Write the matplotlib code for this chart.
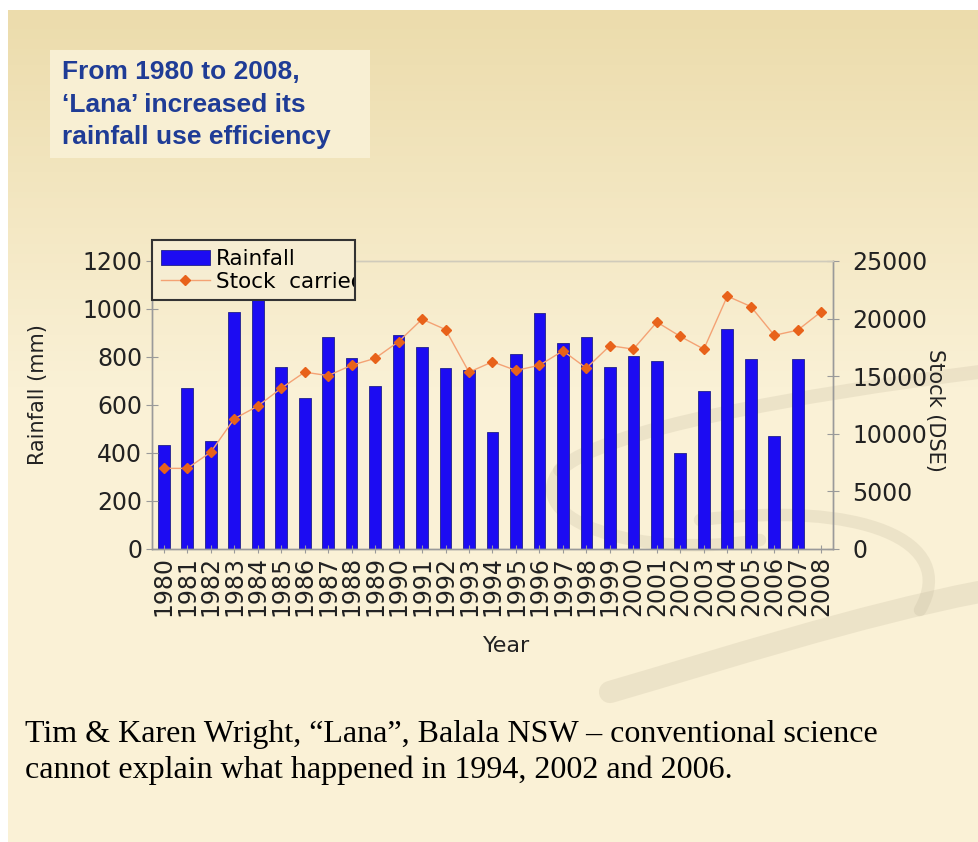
"""Lana: rainfall vs stock carried, 1980-2008 (slide recreation)."""

import numpy as np
import matplotlib
matplotlib.use("Agg")
import matplotlib.pyplot as plt
from matplotlib.patches import Rectangle, PathPatch
from matplotlib.path import Path
from matplotlib.transforms import Bbox, TransformedBbox

# 数据
years = [str(y) for y in range(1980, 2009)]
rainfall_mm = [433, 670, 450, 989, 1060, 760, 628, 885, 797, 679,
               893, 843, 754, 746, 486, 812, 982, 857, 885, 760,
               804, 782, 399, 657, 915, 790, 472, 790, np.nan]
stock_dse = [7000, 7000, 8400, 11300, 12400, 13950, 15350, 15050, 15950, 16550,
             18000, 19950, 19050, 15350, 16250, 15500, 15950, 17200, 15700, 17650,
             17350, 19700, 18450, 17350, 21950, 21050, 18550, 19000, 20600]

W, H = 979, 842
BLUE = "#1c0cf2"
ORANGE = "#e8621a"
AXIS_GREY = "#9a9a9a"
TEXT_C = "#222222"
TICK_FONT = ["DejaVu Sans"]


def fx(px):
    return px / W


def fy(py):
    return 1 - py / H


fig = plt.figure(figsize=(W / 100, H / 100), dpi=100)
fig.patch.set_facecolor("white")

# 幻灯片背景：渐变 + 装饰弧线
bg = fig.add_axes([fx(8), 0, 1 - fx(8), fy(10)], zorder=-10)
grad = np.linspace(0, 1, 256).reshape(-1, 1)
top_c = np.array([236, 220, 172]) / 255
bot_c = np.array([250, 241, 214]) / 255
img = top_c + (bot_c - top_c) * np.clip(grad * 2.2, 0, 1)[..., None]
bg.imshow(img.reshape(256, 1, 3), aspect="auto", extent=[0, 1, 0, 1])
bg.set_axis_off()

curves = [
    ([(979, 592), (860, 615), (720, 660), (610, 692)], 16),
    ([(979, 372), (800, 395), (600, 430), (560, 470)], 10),
    ([(560, 470), (520, 520), (640, 560), (760, 540)], 9),
    ([(700, 520), (860, 500), (960, 540), (920, 610)], 9),
]
for pts, lw in curves:
    verts = [(fx(px), fy(py)) for px, py in pts]
    path = Path(verts, [Path.MOVETO, Path.CURVE4, Path.CURVE4, Path.CURVE4])
    fig.patches.append(PathPatch(path, transform=fig.transFigure, fill=False,
                                 edgecolor="#b8ad92", lw=lw, alpha=0.2,
                                 capstyle="round", zorder=-5))

# 标题框
fig.patches.append(Rectangle((fx(50), fy(158)), fx(320), 108 / H,
                             transform=fig.transFigure, facecolor="#f8efd3",
                             edgecolor="none", zorder=-4))
fig.text(fx(62), fy(60), "From 1980 to 2008,\n\u2018Lana\u2019 increased its\nrainfall use efficiency",
         ha="left", va="top", fontsize=19, fontweight="bold", color="#1f3c96",
         linespacing=1.45, family=["Liberation Sans Narrow", "Liberation Sans", "DejaVu Sans"])

# 主图
ax = fig.add_axes([fx(152), fy(549), fx(833 - 152), 288 / H])
ax.set_facecolor("none")
x = np.arange(len(years))
ax.bar(x, rainfall_mm, width=0.5, color=BLUE, edgecolor="#20208a",
       linewidth=0.6, label="Rainfall")
ax.set_xlim(-0.5, len(years) - 0.5)
ax.set_ylim(0, 1200)
ax.set_yticks(range(0, 1201, 200))
ax.set_xticks(x)
ax.set_xticklabels(years, rotation=90, family=TICK_FONT, fontsize=17)
ax.tick_params(axis="y", labelsize=17, direction="inout", length=8,
               color=AXIS_GREY, pad=3, labelcolor=TEXT_C)
ax.tick_params(axis="x", direction="inout", length=6, color=AXIS_GREY,
               pad=2, labelcolor=TEXT_C)

ax2 = ax.twinx()
ax2.plot(x, stock_dse, color="#f4a274", lw=1.0, marker="D", markersize=5,
         markerfacecolor=ORANGE, markeredgecolor=ORANGE, label="Stock  carried (DSE)")
ax2.set_ylim(0, 25000)
ax2.set_yticks(range(0, 25001, 5000))
ax2.tick_params(axis="y", labelsize=17, direction="inout", length=8,
                color=AXIS_GREY, pad=10, labelcolor=TEXT_C)

for a in (ax, ax2):
    for side in ("left", "bottom", "right"):
        a.spines[side].set_color(AXIS_GREY)
        a.spines[side].set_linewidth(1.0)
    a.spines["top"].set_color("#d0cbbb")
    a.spines["top"].set_linewidth(1.0)

# 坐标轴标题
fig.text(fx(38), fy(395), "Rainfall (mm)", rotation=90, ha="center", va="center",
         fontsize=15, color=TEXT_C, family=TICK_FONT)
fig.text(fx(507), fy(646), "Year", ha="center", va="center",
         fontsize=16, color=TEXT_C, family=TICK_FONT)
fig.text(fx(935), fy(410), "Stock (DSE)", rotation=270, ha="center", va="center",
         fontsize=15, color=TEXT_C, family=TICK_FONT)

# 图例（固定宽度，文字被框裁掉）
h1, l1 = ax.get_legend_handles_labels()
h2, l2 = ax2.get_legend_handles_labels()
leg = ax2.legend(h1 + h2, l1 + l2, loc="upper left", mode="expand",
                 bbox_to_anchor=(fx(152), fy(302), fx(203), 62 / H),
                 bbox_transform=fig.transFigure, borderaxespad=0,
                 fancybox=False, framealpha=1, facecolor="#f6edd2",
                 edgecolor="#333333", handlelength=2.3,
                 handletextpad=0.25, labelspacing=0.15, borderpad=0.4,
                 prop={"family": TICK_FONT, "size": 15.5})
leg.get_frame().set_linewidth(1.5)
clip = TransformedBbox(Bbox.from_extents(fx(152), fy(302), fx(354), fy(240)),
                       fig.transFigure)
for t in leg.get_texts():
    t.set_clip_box(clip)
    t.set_clip_on(True)

# 底部说明
serif = ["Liberation Serif", "DejaVu Serif"]
fig.text(fx(25), fy(742), "Tim & Karen Wright, \u201cLana\u201d, Balala NSW \u2013 conventional science",
         ha="left", va="baseline", fontsize=23, color="black", family=serif)
fig.text(fx(25), fy(778), "cannot explain what happened in 1994, 2002 and 2006.",
         ha="left", va="baseline", fontsize=23, color="black", family=serif)

fig.savefig("out.png", dpi=100)
